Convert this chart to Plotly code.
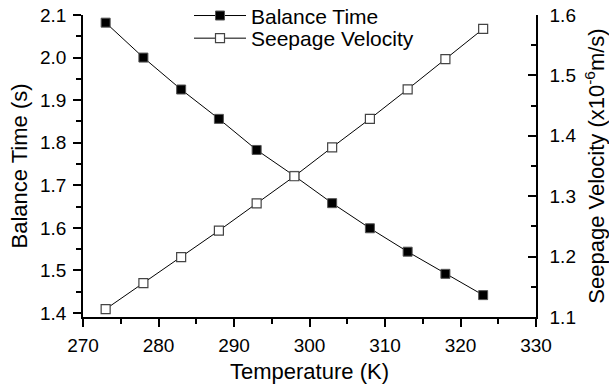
import plotly.graph_objects as go

temperature = [273, 278, 283, 288, 293, 298, 303, 308, 313, 318, 323]
balance_time = [2.082, 2.000, 1.925, 1.856, 1.783, 1.722, 1.658, 1.599, 1.544, 1.492, 1.442]
seepage_velocity = [1.113, 1.156, 1.199, 1.243, 1.288, 1.333, 1.381, 1.428, 1.477, 1.527, 1.577]

FONT = "Liberation Sans, Arial, sans-serif"

fig = go.Figure()
fig.add_trace(go.Scatter(
    x=temperature, y=balance_time, name="Balance Time", mode="lines+markers",
    line=dict(color="black", width=1),
    marker=dict(symbol="square", size=9, color="black", line=dict(color="#555", width=1)),
    yaxis="y", legend="legend"))
fig.add_trace(go.Scatter(
    x=temperature, y=seepage_velocity, name="Seepage Velocity", mode="lines+markers",
    line=dict(color="black", width=1),
    marker=dict(symbol="square", size=9, color="white", line=dict(color="#444", width=1.2)),
    yaxis="y2", legend="legend2"))

axis_common = dict(showgrid=False, zeroline=False, showline=True, linecolor="black", linewidth=1.5,
                   ticks="outside", ticklen=8, tickwidth=1.5, tickcolor="black",
                   tickfont=dict(family=FONT, size=19, color="black"))

legend_common = dict(xanchor="left", yanchor="top", font=dict(family=FONT, size=21, color="black"),
                     bgcolor="rgba(0,0,0,0)", itemwidth=52)

fig.update_layout(
    width=609, height=386,
    margin=dict(l=83, r=73, t=15, b=69, autoexpand=False),
    paper_bgcolor="white", plot_bgcolor="white",
    font=dict(family=FONT, color="black"),
    showlegend=True,
    legend=dict(x=0.234, y=1.065, **legend_common),
    legend2=dict(x=0.234, y=0.99, **legend_common),
    xaxis=dict(range=[270, 330], dtick=10, tick0=270,
               title=dict(text="Temperature (K)", font=dict(family=FONT, size=22, color="black"), standoff=9),
               minor=dict(dtick=5, ticks="outside", ticklen=5, tickwidth=1.5, tickcolor="black"),
               ticklabelstandoff=2,
               **axis_common),
    yaxis=dict(range=[1.3906, 2.1], dtick=0.1, tick0=1.4, tickformat=".1f",
               title=dict(text="Balance Time (s)", font=dict(family=FONT, size=22, color="black"), standoff=6),
               minor=dict(dtick=0.05, ticks="outside", ticklen=5, tickwidth=1.5, tickcolor="black"),
               ticklabelstandoff=3,
               **axis_common),
    yaxis2=dict(range=[1.1, 1.6], dtick=0.1, tick0=1.1, tickformat=".1f", overlaying="y", side="right",
                title=dict(text="Seepage Velocity (x10<sup>-6</sup>m/s)", font=dict(family=FONT, size=22, color="black"), standoff=16),
                showgrid=False, zeroline=False, showline=True, linecolor="black", linewidth=1.5,
                ticks="inside", ticklen=8, tickwidth=1.5, tickcolor="black",
                tickfont=dict(family=FONT, size=19, color="black"),
                ticklabelstandoff=8,
                minor=dict(dtick=0.05, ticks="inside", ticklen=5, tickwidth=1.5, tickcolor="black")),
)

fig.write_html("out.html")
